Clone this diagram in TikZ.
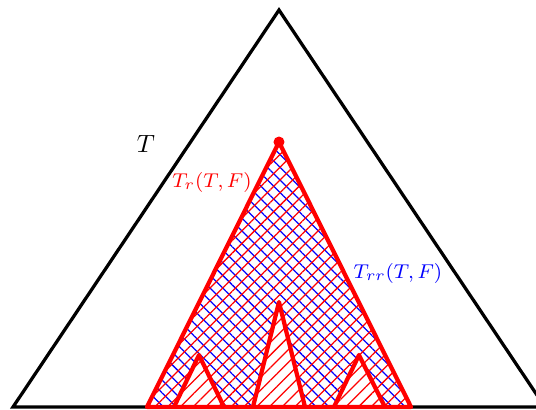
\documentclass[tikz,border=0pt]{standalone}
\usetikzlibrary{patterns.meta}
\begin{document}
\begin{tikzpicture}[x=0.4pt,y=-0.4pt,
  outer/.style={draw=black,line width=1.3pt,line join=miter},
  redtri/.style={draw=red,line width=1.7pt,line join=round},
  nelines/.style={pattern={Lines[angle=45,distance=3.6pt,line width=0.5pt]},pattern color=red},
  nwlines/.style={pattern={Lines[angle=-45,distance=3.6pt,line width=0.5pt]},pattern color=blue},
  lbl/.style={inner sep=0pt,font=\footnotesize}]
\useasboundingbox (0,0) rectangle (536,409);
% outer triangle
\coordinate (A) at (279,10);
\coordinate (BL) at (13,407);
\coordinate (BR) at (545,407);
\draw[outer] (BL) -- (A) -- (BR) -- cycle;
% inner red triangle
\coordinate (R) at (279,142);
\coordinate (RL) at (147,407);
\coordinate (RR) at (411,407);
\fill[nwlines] (RL) -- (R) -- (RR) -- cycle;
\fill[nelines] (RL) -- (R) -- (RR) -- cycle;
% small triangles
\coordinate (S1) at (199,355); \coordinate (S1L) at (174,407); \coordinate (S1R) at (224,407);
\coordinate (S2) at (279,302); \coordinate (S2L) at (253,407); \coordinate (S2R) at (305,407);
\coordinate (S3) at (359,355); \coordinate (S3L) at (334,407); \coordinate (S3R) at (385,407);
\foreach \t in {1,2,3}{
  \fill[white] (S\t L) -- (S\t) -- (S\t R) -- cycle;
  \fill[nelines] (S\t L) -- (S\t) -- (S\t R) -- cycle;
  \draw[redtri] (S\t L) -- (S\t) -- (S\t R);
}
\draw[redtri] (RL) -- (R) -- (RR) -- cycle;
\fill[red] (R) circle (2.2pt);
% labels
\node[inner sep=0pt] (lT) at (146,144) {$T$};
\node[lbl,text=red] (lTr) at (212,182) {$T_r(T,F)$};
\node[lbl,text=blue] (lTrr) at (398,273) {$T_{rr}(T,F)$};
\end{tikzpicture}
\end{document}
